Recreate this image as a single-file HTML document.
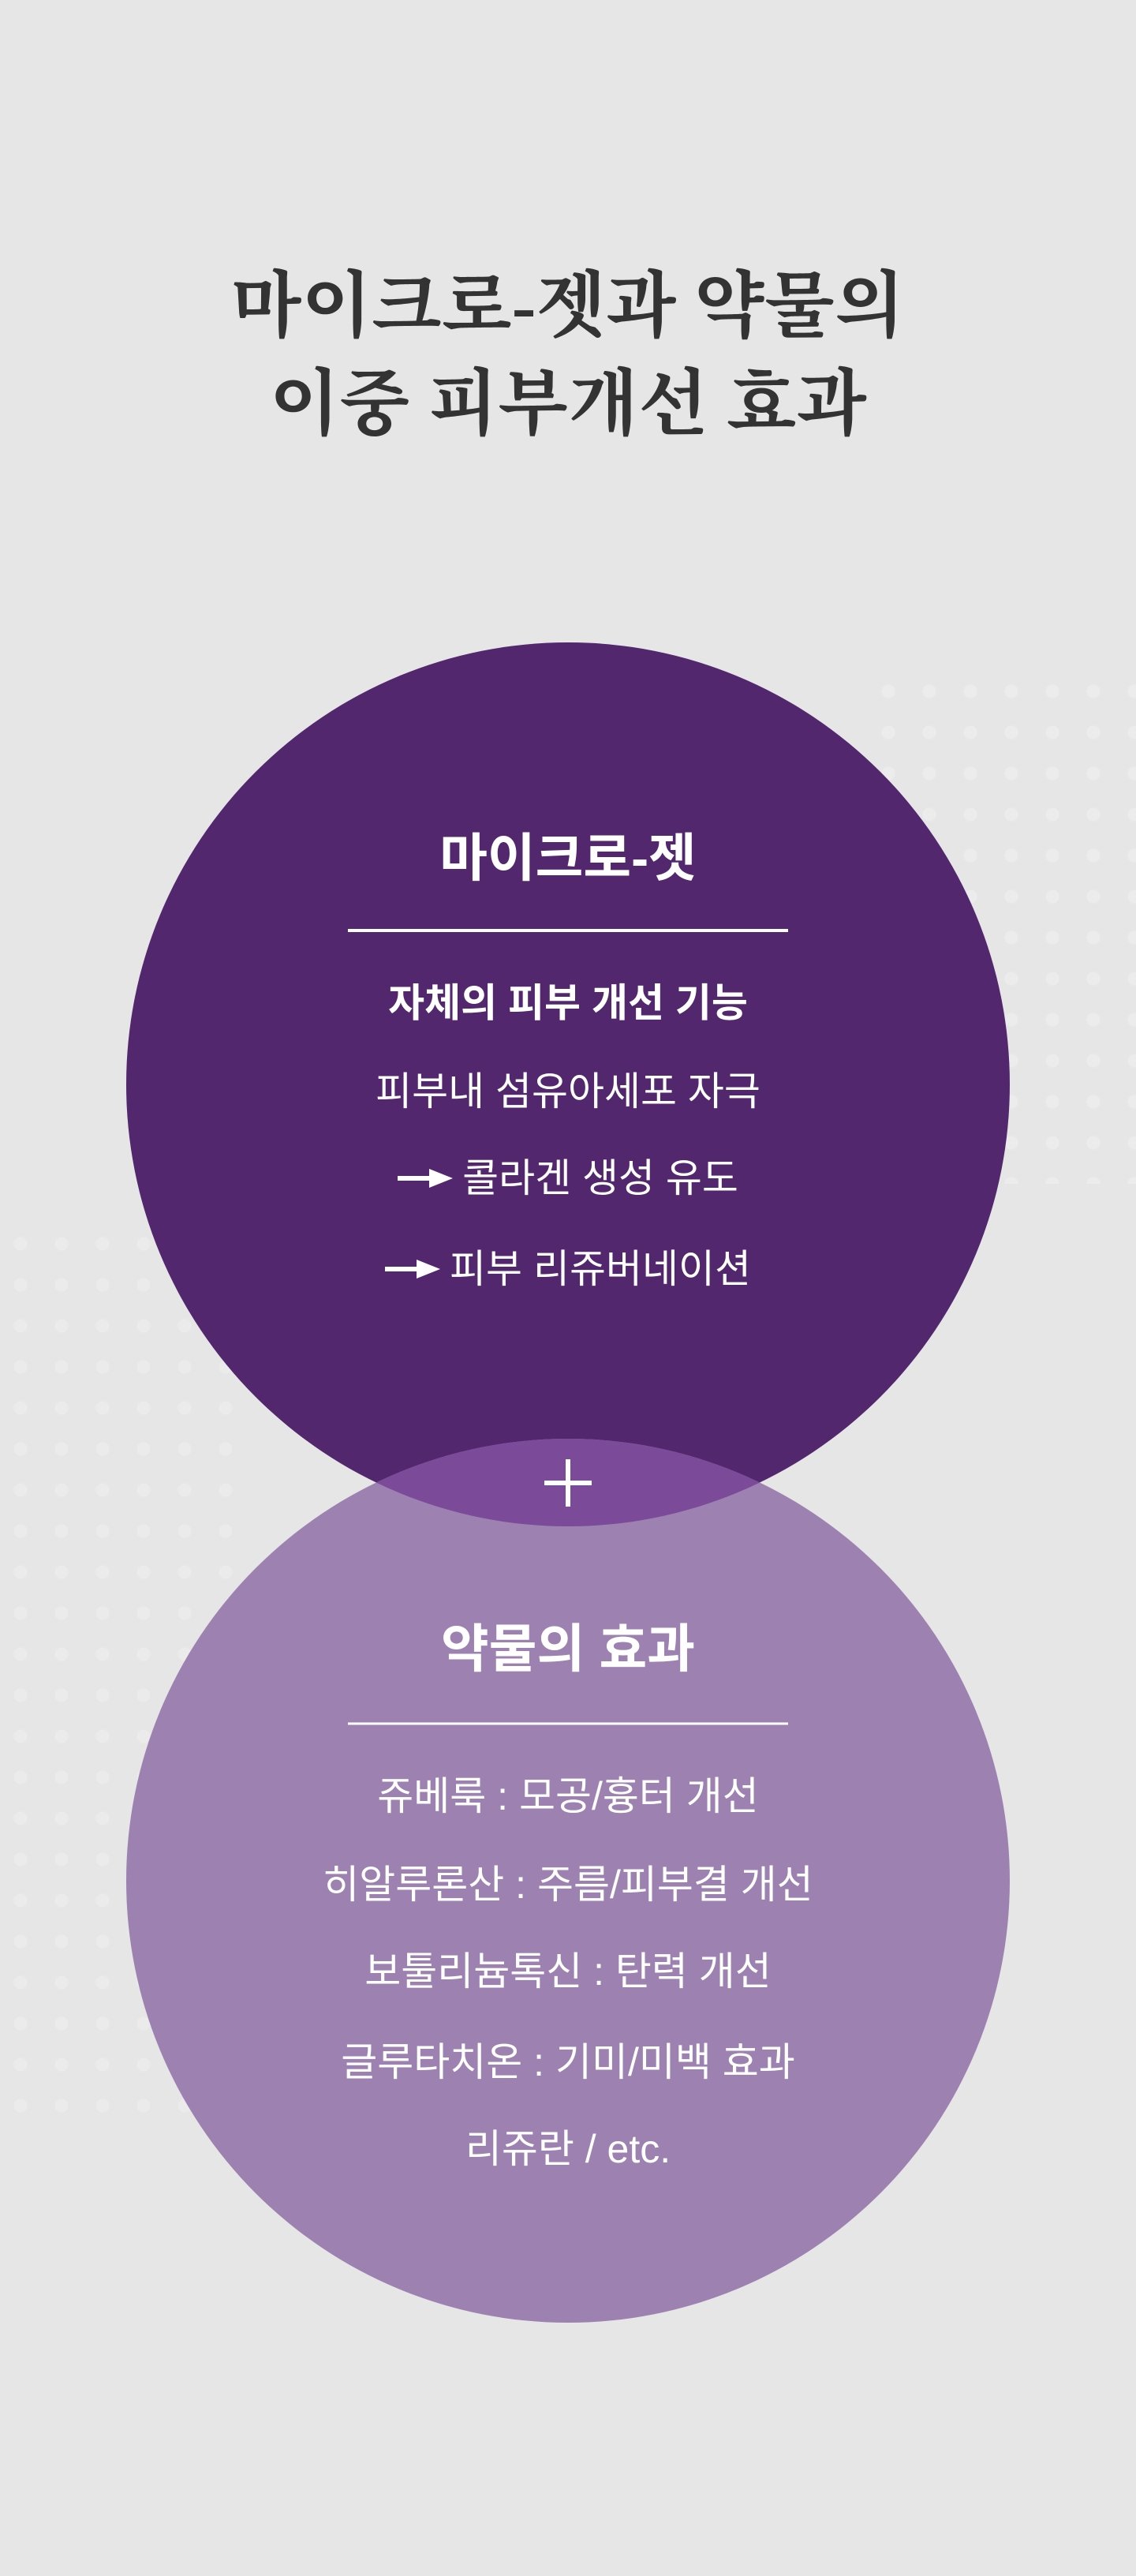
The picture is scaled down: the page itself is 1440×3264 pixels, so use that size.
<!DOCTYPE html>
<html><head><meta charset="utf-8"><style>
html,body{margin:0;padding:0}
body{width:1440px;height:3264px;background:#e6e6e6;position:relative;overflow:hidden;font-family:"Liberation Sans","Noto Sans CJK KR",sans-serif}
.t{position:absolute;left:0;width:1440px;text-align:center;white-space:nowrap;line-height:1}
.dots{position:absolute;background-image:radial-gradient(circle,#efefef 0 8px,transparent 9px);background-size:52px 52px}
.ar{display:inline-block;width:70px;height:24px;vertical-align:middle;margin-right:12px;position:relative;top:-4px}
</style></head><body>
<div class="dots" style="left:1100px;top:850px;width:340px;height:650px;opacity:.7"></div>
<div class="dots" style="left:0;top:1550px;width:300px;height:1150px;opacity:.6"></div>
<svg width="1440" height="3264" style="position:absolute;left:0;top:0">
<defs><clipPath id="c1"><circle cx="720" cy="1374" r="560"/></clipPath></defs>
<circle cx="720" cy="1374" r="560" fill="#52276e"/>
<circle cx="720" cy="2383" r="560" fill="#9d82b1"/>
<circle cx="720" cy="2383" r="560" fill="#7b4a98" clip-path="url(#c1)"/>
<line x1="441" y1="1179" x2="999" y2="1179" stroke="#fff" stroke-width="4"/>
<line x1="441" y1="2184" x2="999" y2="2184" stroke="#fff" stroke-width="3"/>
<line x1="690" y1="1879" x2="750" y2="1879" stroke="#fff" stroke-width="6"/>
<line x1="720" y1="1849" x2="720" y2="1909" stroke="#fff" stroke-width="6"/>
</svg>
<div class="t" style="top:342px;font-size:92px;font-weight:700;color:#333;font-family:'Liberation Serif','Noto Serif CJK SC',serif">마이크로-젯과 약물의</div>
<div class="t" style="top:466px;font-size:92px;font-weight:700;color:#333;font-family:'Liberation Serif','Noto Serif CJK SC',serif">이중 피부개선 효과</div>
<div class="t" style="top:1054px;font-size:66px;font-weight:700;color:#fff">마이크로-젯</div>
<div class="t" style="top:1246px;font-size:50px;font-weight:700;color:#fff">자체의 피부 개선 기능</div>
<div class="t" style="top:1358px;font-size:50px;color:#fff">피부내 섬유아세포 자극</div>
<div class="t" style="top:1468px;font-size:50px;color:#fff"><svg class="ar" viewBox="0 0 70 24"><rect x="0" y="9" width="42" height="6" fill="#fff"/><polygon points="40,0 70,12 40,24" fill="#fff"/></svg>콜라겐 생성 유도</div>
<div class="t" style="top:1583px;font-size:50px;color:#fff"><svg class="ar" viewBox="0 0 70 24"><rect x="0" y="9" width="42" height="6" fill="#fff"/><polygon points="40,0 70,12 40,24" fill="#fff"/></svg>피부 리쥬버네이션</div>
<div class="t" style="top:2056px;font-size:66px;font-weight:700;color:#fff">약물의 효과</div>
<div class="t" style="top:2251px;font-size:50px;color:#fff">쥬베룩 : 모공/흉터 개선</div>
<div class="t" style="top:2363px;font-size:50px;color:#fff">히알루론산 : 주름/피부결 개선</div>
<div class="t" style="top:2473px;font-size:50px;color:#fff">보툴리늄톡신 : 탄력 개선</div>
<div class="t" style="top:2588px;font-size:50px;color:#fff">글루타치온 : 기미/미백 효과</div>
<div class="t" style="top:2698px;font-size:50px;color:#fff">리쥬란 / etc.</div>
</body></html>
